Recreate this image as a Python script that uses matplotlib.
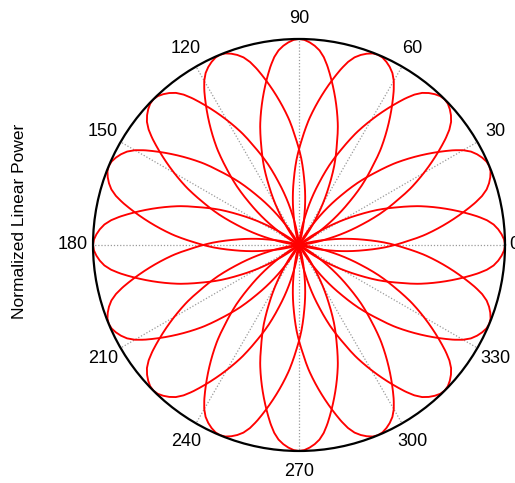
import numpy as np
import matplotlib
matplotlib.use("Agg")
import matplotlib.pyplot as plt

plt.rcParams['font.family'] = ['Liberation Sans', 'DejaVu Sans']

# Steering directions of the 16 beams (degrees)
beam_dirs_deg = [0, 22.5, 45, 67.5, 90, 112.5, 135, 157.5,
                 180, 202.5, 225, 247.5, 270, 292.5, 315, 337.5]

# Main-lobe profile: offset from beam axis (deg) vs normalized linear power
lobe_offset_deg = [0, 1.5, 3, 4.5, 6, 7.5, 9, 10.5, 12, 13.5, 15, 16.5,
                   18, 19.5, 21, 22.5, 24, 25.5, 27, 28.5, 30, 31.5, 33,
                   34.5, 36, 37.5, 39, 40.5, 42]
lobe_power = [1.000, 0.996, 0.985, 0.970, 0.950, 0.920, 0.880, 0.835,
              0.790, 0.745, 0.700, 0.655, 0.610, 0.560, 0.510, 0.465,
              0.420, 0.370, 0.320, 0.275, 0.230, 0.185, 0.140, 0.105,
              0.070, 0.042, 0.020, 0.006, 0.000]

# Angular grid labels
theta_ticks = [0, 30, 60, 90, 120, 150, 180, 210, 240, 270, 300, 330]
theta_labels = [str(t) for t in theta_ticks]

fig = plt.figure(figsize=(5.15, 4.83), dpi=100)
ax = fig.add_axes([0.1806, 0.0663, 0.8, 0.853], projection='polar')

off = np.array(lobe_offset_deg, dtype=float)
pw = np.array(lobe_power, dtype=float)
full_off = np.concatenate([-off[::-1], off[1:]])
full_pw = np.concatenate([pw[::-1], pw[1:]])

for d in beam_dirs_deg:
    line, = ax.plot(np.deg2rad(d + full_off), full_pw, color='#ff0000',
                    lw=1.35, solid_joinstyle='round')
    # let the polar transform bend each segment along theta
    line.get_path()._interpolation_steps = 8

ax.set_ylim(0, 1)
ax.set_yticks([])
ax.set_xticks(np.deg2rad(theta_ticks))
ax.set_xticklabels([])
ax.xaxis.grid(True, color='#9a9a9a', linestyle=(0, (1, 1.5)), lw=0.9)
ax.spines['polar'].set_color('black')
ax.spines['polar'].set_linewidth(1.6)
ax.tick_params(axis='x', length=0)

for t, lab in zip(theta_ticks, theta_labels):
    if t == 0:
        # the 0 label sits at the right edge of the figure
        ax.text(0.0, 1.02, lab, ha='left', va='center',
                fontsize=13, color='black', clip_on=False)
    else:
        ax.text(np.deg2rad(t), 1.1, lab, ha='center', va='center',
                fontsize=13, color='black', clip_on=False)

fig.text(0.037, 0.5414, 'Normalized Linear Power', rotation=90,
         ha='center', va='center', fontsize=12.5, color='black')

fig.savefig('out.png', dpi=100)
